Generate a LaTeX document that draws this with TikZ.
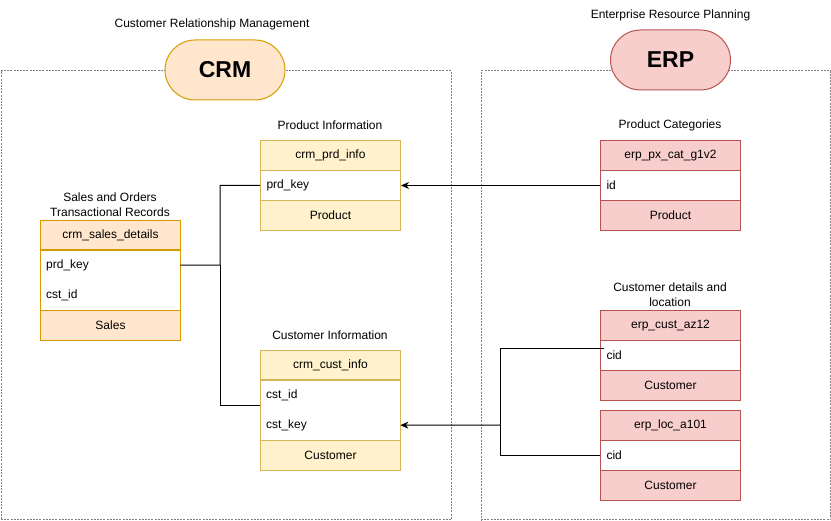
\documentclass[tikz,border=0pt]{standalone}
\usepackage{fontspec}
\setmainfont{Liberation Sans}
\usetikzlibrary{arrows.meta}
\definecolor{crmfill}{HTML}{FFE6CC}
\definecolor{crmline}{HTML}{D79B00}
\definecolor{infofill}{HTML}{FFF2CC}
\definecolor{infoline}{HTML}{D6B656}
\definecolor{erpfill}{HTML}{F8CECC}
\definecolor{erpline}{HTML}{B85450}
\definecolor{framegray}{HTML}{808080}
\begin{document}
\begin{tikzpicture}[x=1pt,y=-1pt,
  font=\fontsize{12}{15}\selectfont,
  container/.style={draw=framegray, line width=0.8pt, dash pattern=on 2pt off 1.2pt,
    inner sep=0pt, anchor=north west},
  pill/.style={draw, line width=1pt, rounded corners=30pt, minimum width=120pt,
    minimum height=60pt, inner sep=0pt, font=\fontsize{23}{26}\selectfont\bfseries},
  title/.style={align=center, inner sep=0pt},
  hdr/.style={draw, line width=1pt, minimum width=140pt, minimum height=30pt,
    inner sep=0pt, anchor=north west},
  field/.style={minimum width=140pt, minimum height=30pt, text width=128pt,
    align=left, inner xsep=6pt, inner ysep=0pt, anchor=north west},
  crmT/.style={fill=crmfill, draw=crmline},
  infoT/.style={fill=infofill, draw=infoline},
  erpT/.style={fill=erpfill, draw=erpline},
  link/.style={draw=black, line width=1pt},
  tip/.style={-{Stealth[length=8pt,width=7pt,inset=2.5pt]}}
]
\useasboundingbox (0,0) rectangle (831,521);

% group frames
\node[container, minimum width=450pt, minimum height=449pt] (crmbox) at (0.5,70.5) {};
\node[container, minimum width=349.5pt, minimum height=449pt] (erpbox) at (480.5,70.5) {};

% group badges and captions
\node[title] (crmtitle) at (212,24) {Customer Relationship Management};
\node[pill, fill=crmfill, draw=crmline] (crm) at (225,70) {CRM};
\node[title] (erptitle) at (670.5,15) {Enterprise Resource Planning};
\node[pill, fill=erpfill, draw=erpline] (erp) at (670.5,60) {ERP};

% crm_prd_info
\node[title] (prdT) at (330,125) {Product Information};
\node[hdr, infoT] (prdH) at (260,140) {crm\_prd\_info};
\node[field, draw=infoline, line width=1pt, fill=white] (prdKey) at (260,170) {prd\_key};
\node[hdr, infoT] (prdF) at (260,200) {Product};

% crm_sales_details
\node[title] (salesT) at (110,204.5) {Sales and Orders\\Transactional Records};
\node[hdr, crmT] (salesH) at (40,220) {crm\_sales\_details};
\node[field] (salesK) at (40,250) {prd\_key};
\node[field] (salesC) at (40,280) {cst\_id};
\draw[draw=crmline, line width=1pt] (salesK.north west) rectangle (salesC.south east);
\node[hdr, crmT] (salesF) at (40,310) {Sales};

% crm_cust_info
\node[title] (custT) at (330,335) {Customer Information};
\node[hdr, infoT] (custH) at (260,350) {crm\_cust\_info};
\node[field] (custId) at (260,380) {cst\_id};
\node[field] (custKey) at (260,410) {cst\_key};
\draw[draw=infoline, line width=1pt] (custId.north west) rectangle (custKey.south east);
\node[hdr, infoT] (custF) at (260,440) {Customer};

% erp_px_cat_g1v2
\node[title] (pxT) at (670,125) {Product Categories};
\node[hdr, erpT] (pxH) at (600,140) {erp\_px\_cat\_g1v2};
\node[field, draw=erpline, line width=1pt, fill=white] (pxId) at (600,170) {id};
\node[hdr, erpT] (pxF) at (600,200) {Product};

% erp_cust_az12
\node[title] (azT) at (670,294.5) {Customer details and\\location};
\node[hdr, erpT] (azH) at (600,310) {erp\_cust\_az12};
\node[field, draw=erpline, line width=1pt, fill=white] (azCid) at (600,340) {cid};
\node[hdr, erpT] (azF) at (600,370) {Customer};

% erp_loc_a101
\node[hdr, erpT] (locH) at (600,410) {erp\_loc\_a101};
\node[field, draw=erpline, line width=1pt, fill=white] (locCid) at (600,440) {cid};
\node[hdr, erpT] (locF) at (600,470) {Customer};

% relations
\coordinate (salesJoin) at (220,265);
\coordinate (erpJoin) at (500,425);
\draw[link, tip] (pxId.west) -- (prdKey.east);
\draw[link] (salesK.east) -- (salesJoin) |- (prdKey.west);
\draw[link] (salesJoin) |- ([yshift=-10pt]custId.west);
\draw[link] ([xshift=4pt,yshift=7pt]azCid.west) -| (erpJoin);
\draw[link] (locCid.west) -| (erpJoin);
\draw[link, tip] (erpJoin) -- (custKey.east);
\end{tikzpicture}
\end{document}
